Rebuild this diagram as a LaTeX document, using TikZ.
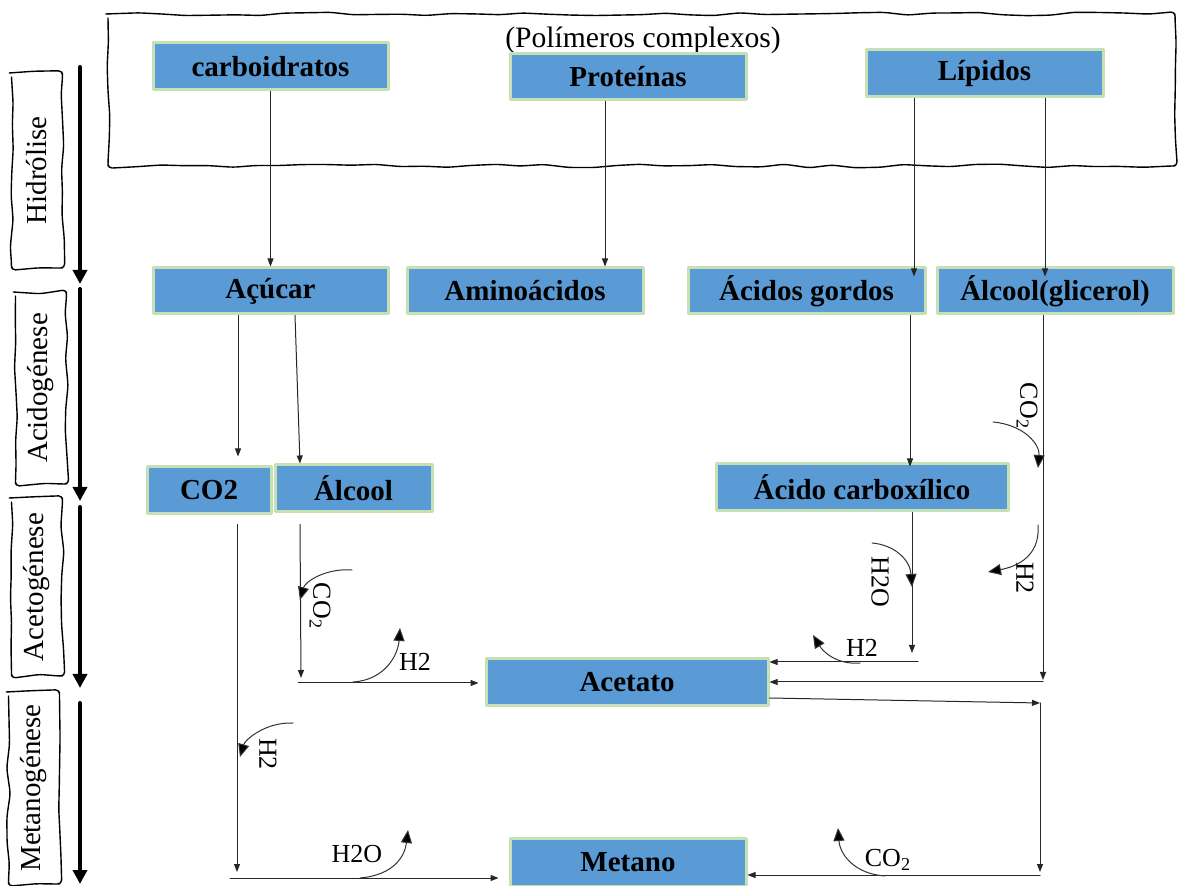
\documentclass[tikz,border=0pt]{standalone}
\usepackage{fontspec}
\setmainfont{Liberation Serif}
\usetikzlibrary{arrows.meta, calc, decorations.pathmorphing}
\definecolor{boxblue}{RGB}{91,155,213}
\definecolor{boxgreen}{RGB}{197,224,180}
\pgfmathsetseed{7}

\begin{document}
\begin{tikzpicture}[x=0.5pt, y=-0.5pt, line cap=round, line join=round,
    proc/.style={rectangle, fill=boxblue, draw=boxgreen, line width=1.5pt, inner sep=0pt,
      font=\bfseries\fontsize{14.5}{17}\selectfont},
    wavyline/.style={line width=0.7pt, decorate, rounded corners=2pt,
      decoration={random steps, segment length=12pt, amplitude=0.9pt}},
    phase/.style={rectangle, draw, wavyline, rotate=90, inner sep=0pt,
      minimum height=25.5pt, font=\fontsize{14.5}{16}\selectfont},
    flow/.style={draw=black!85, line width=0.5pt, -{Triangle[length=4pt,width=3pt]}},
    side/.style={draw=black!80, line width=0.5pt, -{Triangle[length=6.5pt,width=5.5pt,fill=black]}},
    chem/.style={font=\fontsize{13}{15}\selectfont},
    phasearrow/.style={line width=2pt, -{Triangle[length=7pt,width=7pt]}}]
  \useasboundingbox (0,0) rectangle (1178,886);

  % -- Polymer frame --
  \draw[wavyline] (108,14) rectangle (1175,166);
  \node[font=\fontsize{14.8}{16}\selectfont] (poli) at (643,40) {(Polímeros complexos)};

  % -- Phases (left column) --
  \node[phase, minimum width=97.5pt] (hid) at (37,170.5) {Hidrólise};
  \node[phase, minimum width=96pt] (acid) at (41,388) {Acidogénese};
  \node[phase, minimum width=89pt] (acetg) at (37,587) {Acetogénese};
  \node[phase, minimum width=96pt] (metg) at (34,788) {Metanogénese};
  \foreach \ya/\yb in {67/284, 289/501, 507/688, 703/884}
    \draw[phasearrow] (80,\ya) -- (80,\yb);

  % -- Substances --
  \node[proc, minimum width=117.5pt, minimum height=23.5pt] (carb) at (270.5,66.5) {carboidratos};
  \node[proc, minimum width=118pt, minimum height=23pt] (prot) at (628,77) {Proteínas};
  \node[proc, minimum width=118.5pt, minimum height=23.5pt] (lip) at (984.5,73.5) {Lípidos};
  \node[proc, minimum width=117.5pt, minimum height=23pt] (acucar) at (270.5,291) {Açúcar};
  \node[proc, minimum width=118pt, minimum height=23pt] (amino) at (525,291) {Aminoácidos};
  \node[proc, minimum width=118.5pt, minimum height=23pt] (acgord) at (806.5,291) {Ácidos gordos};
  \node[proc, minimum width=118pt, minimum height=23pt] (glic) at (1055,291) {Álcool(glicerol)};
  \node[proc, minimum width=62pt, minimum height=23.5pt] (co2) at (209,490.5) {CO2};
  \node[proc, minimum width=78.5pt, minimum height=23.5pt] (alcool) at (353.5,488.5) {Álcool};
  \node[proc, minimum width=146pt, minimum height=23.5pt] (carbox) at (862,487.5) {Ácido carboxílico};
  \node[proc, minimum width=141pt, minimum height=23.5pt] (acet) at (627,682.5) {Acetato};
  \node[proc, minimum width=118pt, minimum height=24pt] (meta) at (628,862) {Metano};

  % -- Turning points --
  \coordinate (g1) at (1043,680);
  \coordinate (g2) at (1043,682);
  \coordinate (c1) at (912,653);
  \coordinate (c2) at (918,662);
  \coordinate (r1) at (1040,703);
  \coordinate (r2) at (1040,872);
  \coordinate (r3) at (1040,875);
  \coordinate (m1) at (237,872);
  \coordinate (m2) at (230,878);
  \coordinate (a1) at (301,678);
  \coordinate (a2) at (298,683);

  % -- Hydrolysis --
  \draw[flow] (carb.south) -- (acucar.north);
  \draw[flow] ([xshift=-11.5pt]prot.south) -- ([xshift=-11.5pt]prot.south |- amino.north);
  \draw[flow] ([xshift=-35.25pt]lip.south) -- ([xshift=-35.25pt,yshift=-5pt]lip.south |- acgord.north);
  \draw[flow] ([xshift=30.25pt]lip.south) -- ([xshift=30.25pt,yshift=-5pt]lip.south |- glic.north);

  % -- Acidogenesis --
  \draw[flow, shorten >=4.5pt] ([xshift=-16.25pt]acucar.south) -- ([xshift=-16.25pt]acucar.south |- co2.north);
  \draw[flow] ([xshift=12.25pt]acucar.south) -- ([xshift=-26.75pt]alcool.north);
  \draw[flow] ([xshift=51.75pt]acgord.south) -- ([xshift=24pt,yshift=-2pt]carbox.north);

  % -- Acetogenesis --
  \draw[flow] ([xshift=-26.75pt,yshift=-5.5pt]alcool.south) -- (a1);
  \draw[flow, shorten >=3pt] (a2) -- (a2 -| acet.west);
  \draw[flow] ([xshift=25pt]carbox.south) -- (c1);
  \draw[flow] (c2) -- (c2 -| acet.east);
  \draw[flow] ([xshift=-6pt]glic.south) -- (g1);
  \draw[flow] (g2) -- (g2 -| acet.east);

  % -- Methanogenesis --
  \draw[flow] ([yshift=-7.75pt]acet.east) -- (r1);
  \draw[flow] (r1) -- (r2);
  \draw[flow] (r3) -- (r3 -| meta.east);
  \draw[flow] ([xshift=14pt,yshift=-4.5pt]co2.south) -- (m1);
  \draw[flow, shorten >=5pt] (m2) -- (m2 -| meta.west);

  % -- Gases in and out --
  \draw[side] (352,570) .. controls (325,568) and (305,582) .. (300,600);
  \node[chem, rotate=-90] (gco2a) at (320,606) {CO\textsubscript{2}};
  \draw[side] (353,682) .. controls (385,680) and (398,655) .. (400,628);
  \node[chem] (gh2a) at (415,662) {H2};
  \draw[side] (293,723) .. controls (265,722) and (245,740) .. (240,757);
  \node[chem, rotate=-90] (gh2b) at (268,754) {H2};
  \draw[side] (360,878) .. controls (395,875) and (405,855) .. (408,830);
  \node[chem] (gh2o) at (357,854) {H2O};
  \draw[side] (993,422) .. controls (1025,425) and (1040,445) .. (1038,468);
  \node[chem, rotate=-90] (gco2b) at (1027,406) {CO\textsubscript{2}};
  \draw[side] (1038,525) .. controls (1040,550) and (1025,565) .. (988,572);
  \node[chem, rotate=-90] (gh2c) at (1025,578) {H2};
  \draw[side] (872,543) .. controls (895,545) and (910,560) .. (912,587);
  \node[chem, rotate=-90] (gh2od) at (880,582) {H2O};
  \draw[side] (860,663) .. controls (835,665) and (822,650) .. (813,635);
  \node[chem] (gh2e) at (862,648) {H2};
  \draw[side] (885,876) .. controls (855,874) and (840,855) .. (838,828);
  \node[chem] (gco2c) at (888,860) {CO\textsubscript{2}};
\end{tikzpicture}
\end{document}
